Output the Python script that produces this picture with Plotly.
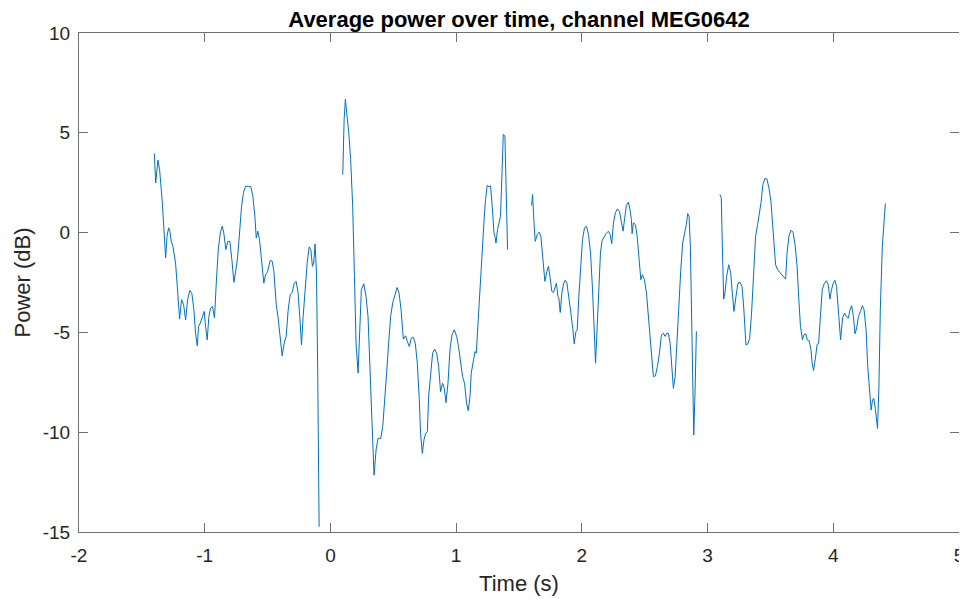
import plotly.graph_objects as go

# Segment 1
t1 = [-1.401, -1.390, -1.372, -1.359, -1.337, -1.311, -1.300, -1.287, -1.277, -1.266, -1.253, -1.232, -1.218, -1.200,
      -1.184, -1.168, -1.152, -1.136, -1.118, -1.102, -1.086, -1.073, -1.059, -1.049, -1.035, -1.019, -1.004, -0.993,
      -0.980, -0.967, -0.953, -0.938, -0.922, -0.908, -0.892, -0.876, -0.861, -0.848, -0.832, -0.816, -0.800, -0.784,
      -0.768, -0.752, -0.739, -0.723, -0.707, -0.691, -0.675, -0.654, -0.633, -0.617, -0.601, -0.590, -0.578, -0.564,
      -0.548, -0.530, -0.516, -0.501, -0.479, -0.463, -0.450, -0.431, -0.416, -0.400, -0.384, -0.368, -0.352, -0.336,
      -0.320, -0.304, -0.288, -0.273, -0.257, -0.244, -0.230, -0.217, -0.201, -0.185, -0.169, -0.156, -0.143, -0.133,
      -0.122, -0.111, -0.101, -0.090]
p1 = [3.97, 2.49, 3.63, 3.16, 1.49, -1.27, -0.19, 0.24, 0.07, -0.44, -0.69, -1.52, -2.70, -4.33,
      -3.36, -3.61, -4.37, -3.36, -2.90, -3.06, -3.87, -5.04, -5.67, -4.70, -4.53, -4.20, -3.95, -4.70,
      -5.37, -4.20, -3.78, -3.70, -4.28, -2.53, -0.85, -0.02, 0.32, -0.02, -0.85, -0.44, -0.44, -1.36,
      -2.49, -1.86, -1.27, -0.02, 1.32, 2.02, 2.32, 2.32, 2.29, 1.82, 0.82, -0.27, 0.07, -0.35,
      -1.27, -2.53, -2.11, -1.99, -1.39, -1.44, -1.94, -3.61, -4.28, -5.37, -6.17, -5.54, -5.20, -3.87,
      -3.11, -3.00, -2.53, -2.44, -3.03, -4.20, -5.62, -4.20, -2.86, -1.52, -0.72, -0.85, -1.69, -1.52,
      -0.57, -2.02, -7.04, -14.74]

# Segment 2
t2 = [0.098, 0.109, 0.119, 0.132, 0.146, 0.161, 0.177, 0.191, 0.204, 0.220, 0.233, 0.246, 0.265, 0.283, 0.299,
      0.315, 0.331, 0.347, 0.363, 0.379, 0.400, 0.416, 0.432, 0.447, 0.463, 0.479, 0.495, 0.511, 0.530, 0.546,
      0.562, 0.580, 0.598, 0.612, 0.628, 0.643, 0.659, 0.675, 0.691, 0.707, 0.717, 0.731, 0.744, 0.757, 0.771,
      0.781, 0.797, 0.813, 0.829, 0.845, 0.861, 0.876, 0.892, 0.906, 0.919, 0.935, 0.951, 0.967, 0.985, 1.004,
      1.019, 1.035, 1.051, 1.067, 1.083, 1.096, 1.110, 1.120, 1.136, 1.150, 1.160, 1.176, 1.192, 1.208, 1.224,
      1.234, 1.247, 1.263, 1.274, 1.287, 1.301, 1.309, 1.317, 1.329, 1.340, 1.353, 1.364, 1.375, 1.388, 1.398,
      1.409]
p2 = [2.91, 5.67, 6.68, 6.01, 5.00, 3.66, 1.32, -2.19, -5.54, -7.04, -4.53, -2.86, -2.56, -3.20, -4.20,
      -6.54, -9.55, -12.15, -10.89, -10.31, -10.31, -9.72, -8.05, -7.04, -5.54, -4.20, -3.53, -3.11, -2.75, -3.03,
      -3.87, -5.34, -5.17, -5.46, -5.71, -5.29, -5.24, -5.54, -6.54, -8.38, -10.06, -11.06, -10.39, -10.06, -9.97,
      -8.22, -6.88, -6.04, -5.84, -6.04, -6.71, -7.97, -7.55, -7.80, -8.52, -7.55, -5.87, -5.12, -4.87, -5.20,
      -5.71, -6.54, -7.21, -7.55, -8.55, -8.92, -8.22, -7.04, -6.38, -5.96, -6.04, -4.20, -2.86, -0.35, 0.82,
      1.66, 2.36, 2.29, 2.36, 1.32, -0.02, -0.19, -0.52, 0.15, 0.49, 0.82, 2.83, 4.92, 4.83, 2.16,
      -0.85]

# Segment 3
t3 = [1.600, 1.608, 1.618, 1.629, 1.645, 1.661, 1.674, 1.690, 1.706, 1.722, 1.734, 1.748, 1.761, 1.774, 1.788,
      1.798, 1.809, 1.817, 1.828, 1.841, 1.855, 1.868, 1.881, 1.897, 1.913, 1.929, 1.939, 1.953, 1.963, 1.976,
      1.989, 2.005, 2.021, 2.037, 2.053, 2.069, 2.085, 2.098, 2.109, 2.122, 2.135, 2.148, 2.161, 2.177, 2.193,
      2.211, 2.225, 2.238, 2.251, 2.267, 2.283, 2.299, 2.315, 2.328, 2.341, 2.354, 2.370, 2.383, 2.394, 2.400,
      2.410, 2.426, 2.440, 2.455, 2.469, 2.482, 2.498, 2.514, 2.530, 2.545, 2.553, 2.561, 2.569, 2.585, 2.601,
      2.617, 2.633, 2.649, 2.662, 2.675, 2.688, 2.702, 2.715, 2.728, 2.742, 2.755, 2.773, 2.787, 2.802, 2.818,
      2.831, 2.842, 2.853, 2.863, 2.874, 2.882, 2.890, 2.900, 2.911]
p3 = [1.36, 1.91, 0.65, -0.44, -0.10, 0.02, -0.19, -1.36, -2.44, -1.94, -1.69, -2.28, -2.94, -3.00, -2.78,
      -2.53, -3.20, -3.28, -4.00, -3.03, -2.53, -2.39, -2.53, -3.20, -4.03, -4.87, -5.57, -4.95, -4.87, -3.20,
      -1.69, -0.35, 0.24, 0.32, -0.10, -1.02, -2.86, -5.04, -6.54, -4.70, -2.53, -1.02, -0.39, -0.19, -0.05,
      0.07, -0.10, -0.55, 0.49, 0.99, 1.19, 1.07, 0.57, 0.07, 0.74, 1.36, 1.52, 1.15, 0.65, -0.05,
      0.49, 0.40, -0.19, -1.36, -2.36, -2.11, -2.36, -3.03, -4.20, -5.37, -6.24, -6.46, -7.21, -7.18, -6.71,
      -6.04, -5.12, -5.04, -5.20, -5.04, -5.04, -5.54, -6.88, -7.80, -7.21, -5.54, -3.87, -1.86, -0.52, -0.02,
      0.40, 0.95, 0.82, -0.69, -4.37, -8.05, -10.14, -8.05, -4.95]

# Segment 4
t4 = [3.099, 3.109, 3.117, 3.128, 3.138, 3.152, 3.168, 3.184, 3.197, 3.210, 3.226, 3.242, 3.258, 3.274, 3.289,
      3.305, 3.321, 3.335, 3.350, 3.366, 3.382, 3.398, 3.411, 3.425, 3.440, 3.456, 3.472, 3.488, 3.504, 3.520,
      3.530, 3.541, 3.557, 3.573, 3.589, 3.605, 3.621, 3.632, 3.648, 3.664, 3.680, 3.696, 3.712, 3.726, 3.739,
      3.755, 3.766, 3.782, 3.792, 3.808, 3.822, 3.832, 3.843, 3.856, 3.872, 3.883, 3.896, 3.912, 3.928, 3.944,
      3.960, 3.973, 3.986, 4.000, 4.013, 4.026, 4.042, 4.058, 4.074, 4.090, 4.104, 4.120, 4.133, 4.146, 4.160,
      4.173, 4.186, 4.200, 4.216, 4.232, 4.245, 4.261, 4.274, 4.288, 4.301, 4.312, 4.322, 4.334, 4.344, 4.352,
      4.363, 4.374, 4.390, 4.403, 4.414]
p4 = [1.91, 1.74, -0.52, -3.33, -3.03, -2.19, -1.61, -2.02, -3.03, -3.95, -3.20, -2.53, -2.49, -2.69, -3.87,
      -5.62, -5.57, -5.29, -4.03, -1.86, -0.19, 0.40, 0.90, 1.49, 2.41, 2.71, 2.69, 2.24, 1.57, 0.32,
      -0.85, -1.61, -1.86, -1.99, -2.11, -2.23, -2.33, -1.02, -0.15, 0.12, 0.02, -0.60, -1.69, -3.36, -4.70,
      -5.37, -5.12, -5.07, -5.37, -5.41, -5.87, -6.54, -6.91, -6.38, -5.59, -5.57, -4.20, -2.86, -2.56, -2.41,
      -2.61, -3.33, -2.86, -2.53, -2.39, -2.69, -4.03, -5.37, -4.28, -4.03, -4.20, -4.28, -3.87, -3.66, -4.20,
      -5.07, -4.78, -4.20, -3.95, -3.66, -3.87, -4.87, -6.71, -8.05, -8.89, -8.38, -8.30, -8.80, -9.39, -9.81,
      -7.72, -3.87, -0.69, 0.65, 1.46]

x_ticks = [-2, -1, 0, 1, 2, 3, 4, 5]
y_ticks = [-15, -10, -5, 0, 5, 10]

x_all, y_all = [], []
for tt, pp in [(t1, p1), (t2, p2), (t3, p3), (t4, p4)]:
    if x_all:
        x_all.append(None)
        y_all.append(None)
    x_all.extend(tt)
    y_all.extend(pp)

fig = go.Figure()
fig.add_trace(go.Scatter(x=x_all, y=y_all, mode="lines", connectgaps=False,
                         line=dict(color="#0072BD", width=1), showlegend=False))

font = "Arial, Liberation Sans, Helvetica, sans-serif"
axis_common = dict(showline=True, linecolor="#707070", linewidth=1, mirror="ticks",
                   ticks="inside", ticklen=9, tickcolor="#707070", tickwidth=1,
                   showgrid=False, zeroline=False, automargin=False,
                   tickfont=dict(family=font, size=19, color="#262626"))

# the page body has an 8px default margin; the figure is sized to compensate
fig.update_layout(
    width=959, height=591,
    margin=dict(l=71, r=8, t=25, b=67),
    paper_bgcolor="white", plot_bgcolor="white",
    title=dict(text="<b>Average power over time, channel MEG0642</b>",
               font=dict(family=font, size=22, color="black"),
               x=0.5, xref="paper", xanchor="center",
               y=1 - 11 / 591, yref="container", yanchor="middle"),
    xaxis=dict(range=[-2, 5], tickvals=x_ticks, ticktext=[str(v) for v in x_ticks],
               ticklabelstandoff=6,
               title=dict(text="Time (s)", font=dict(family=font, size=22, color="#262626"), standoff=10),
               **axis_common),
    yaxis=dict(range=[-15, 10], tickvals=y_ticks, ticktext=[str(v) for v in y_ticks],
               ticklabelstandoff=4,
               title=dict(text="Power (dB)", font=dict(family=font, size=22, color="#262626"), standoff=6),
               **axis_common),
)

fig.write_html("out.html")
